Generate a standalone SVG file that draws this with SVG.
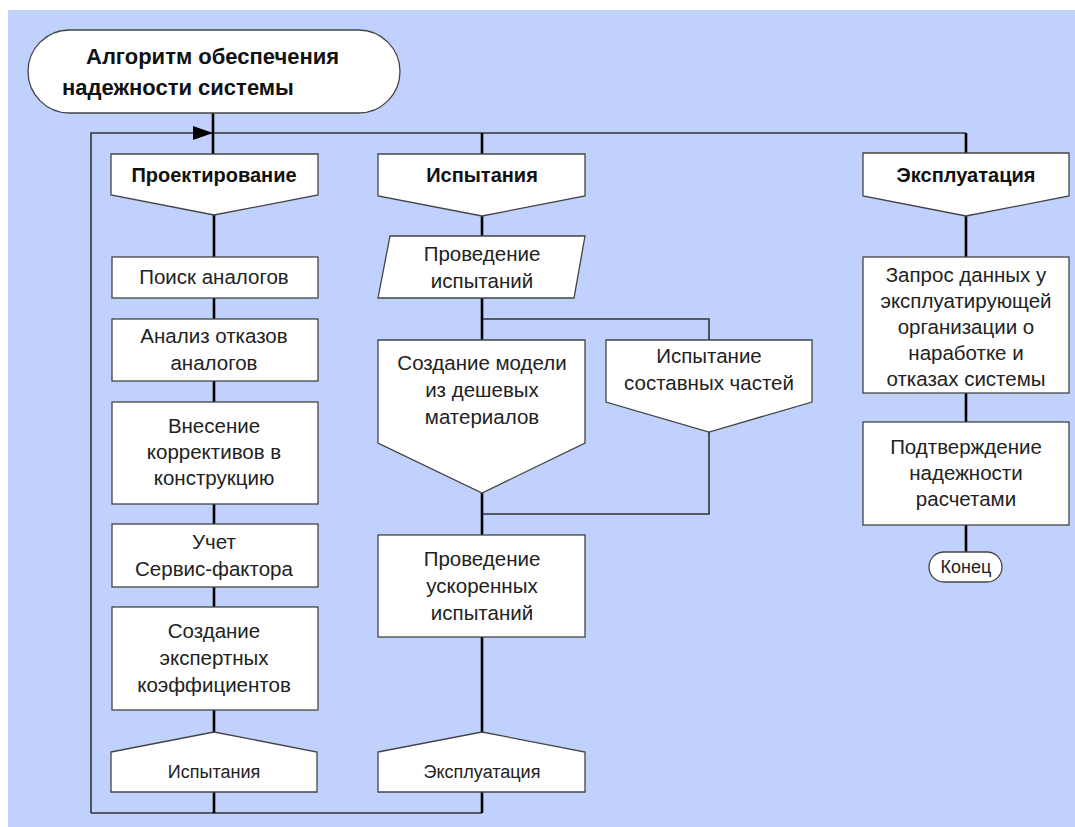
<svg xmlns="http://www.w3.org/2000/svg" width="1075" height="827" viewBox="0 0 1075 827">
<defs>
<style>
.bg{fill:#c0d1fd}
.box{fill:#fff;stroke:#444;stroke-width:1.3}
.t{font-family:"Liberation Sans",Arial,sans-serif;font-size:20.5px;fill:#222;text-anchor:middle}
.h{font-family:"Liberation Sans",Arial,sans-serif;font-size:20px;font-weight:bold;fill:#111;text-anchor:middle}
.ti{font-family:"Liberation Sans",Arial,sans-serif;font-size:22px;font-weight:bold;fill:#111}
.s{font-family:"Liberation Sans",Arial,sans-serif;font-size:18px;fill:#222;text-anchor:middle}
.v{stroke:#000;stroke-width:2.6;fill:none}
.w{stroke:#333;stroke-width:1.6;fill:none}
</style>
<marker id="arr" markerWidth="20" markerHeight="14" refX="20" refY="7" orient="auto" markerUnits="userSpaceOnUse">
<path d="M0,0 L20,7 L0,14 Z" fill="#000"/>
</marker>
</defs>
<rect class="bg" x="8" y="10" width="1067" height="817"/>

<g id="connectors">
<path class="w" d="M91,813 L91,133 L213,133" marker-end="url(#arr)"/>
<path class="w" d="M213,133 L966,133"/>
<path class="w" d="M91,813 L482,813"/>
<path class="w" d="M482,319 L709,319 L709,340"/>
<path class="w" d="M709,432 L709,514 L482,514"/>
<path class="v" d="M213,113 L213,154"/>
<path class="v" d="M214,215 L214,257 M214,298 L214,319 M214,381 L214,402 M214,504 L214,524 M214,587 L214,607 M214,710 L214,732 M214,792 L214,813"/>
<path class="v" d="M482,133 L482,154 M482,216 L482,236 M482,298 L482,340 M482,493 L482,535 M482,637 L482,732 M482,792 L482,813"/>
<path class="v" d="M966,133 L966,153 M966,216 L966,257 M966,393 L966,422 M966,525 L966,552"/>
</g>

<g id="title">
<rect class="box" x="28" y="30" width="372" height="83" rx="41.5" ry="41.5"/>
<text class="ti" x="86" y="64">Алгоритм обеспечения</text>
<text class="ti" x="62" y="95">надежности системы</text>
</g>

<g id="h-design">
<path class="box" d="M111,154 L318,154 L318,195 L214,215 L111,195 Z"/>
<text class="h" x="214" y="182">Проектирование</text>
</g>
<g id="n-search">
<rect class="box" x="112" y="257" width="206" height="41"/>
<text class="t" x="214" y="284">Поиск аналогов</text>
</g>
<g id="n-analysis">
<rect class="box" x="112" y="319" width="206" height="62"/>
<text class="t" x="214" y="343">Анализ отказов</text>
<text class="t" x="214" y="370">аналогов</text>
</g>
<g id="n-correct">
<rect class="box" x="112" y="402" width="206" height="102"/>
<text class="t" x="214" y="433">Внесение</text>
<text class="t" x="214" y="459">коррективов в</text>
<text class="t" x="214" y="485">конструкцию</text>
</g>
<g id="n-service">
<rect class="box" x="112" y="524" width="206" height="63"/>
<text class="t" x="214" y="549">Учет</text>
<text class="t" x="214" y="576">Сервис-фактора</text>
</g>
<g id="n-expert">
<rect class="box" x="112" y="607" width="206" height="103"/>
<text class="t" x="214" y="638">Создание</text>
<text class="t" x="214" y="665">экспертных</text>
<text class="t" x="214" y="692">коэффициентов</text>
</g>
<g id="o-test">
<path class="box" d="M111,752 L214,732 L317,752 L317,792 L111,792 Z"/>
<text class="s" x="214" y="778">Испытания</text>
</g>

<g id="h-test">
<path class="box" d="M378,154 L585,154 L585,196 L482,216 L378,196 Z"/>
<text class="h" x="482" y="182">Испытания</text>
</g>
<g id="n-conduct">
<path class="box" d="M390,236 L585,236 L574,298 L378,298 Z"/>
<text class="t" x="482" y="261">Проведение</text>
<text class="t" x="482" y="288">испытаний</text>
</g>
<g id="n-model">
<path class="box" d="M378,340 L585,340 L585,443 L482,493 L378,443 Z"/>
<text class="t" x="482" y="370">Создание модели</text>
<text class="t" x="482" y="397">из дешевых</text>
<text class="t" x="482" y="424">материалов</text>
</g>
<g id="n-parts">
<path class="box" d="M606,340 L812,340 L812,402 L709,432 L606,402 Z"/>
<text class="t" x="709" y="363">Испытание</text>
<text class="t" x="709" y="390">составных частей</text>
</g>
<g id="n-accel">
<rect class="box" x="378" y="535" width="207" height="102"/>
<text class="t" x="482" y="566">Проведение</text>
<text class="t" x="482" y="593">ускоренных</text>
<text class="t" x="482" y="620">испытаний</text>
</g>
<g id="o-exploit">
<path class="box" d="M378,752 L482,732 L585,752 L585,792 L378,792 Z"/>
<text class="s" x="482" y="778">Эксплуатация</text>
</g>

<g id="h-exploit">
<path class="box" d="M863,153 L1069,153 L1069,196 L966,216 L863,196 Z"/>
<text class="h" x="966" y="182">Эксплуатация</text>
</g>
<g id="n-request">
<rect class="box" x="863" y="257" width="206" height="136"/>
<text class="t" x="966" y="282">Запрос данных у</text>
<text class="t" x="966" y="308">эксплуатирующей</text>
<text class="t" x="966" y="334">организации о</text>
<text class="t" x="966" y="360">наработке и</text>
<text class="t" x="966" y="386">отказах системы</text>
</g>
<g id="n-confirm">
<rect class="box" x="863" y="422" width="206" height="103"/>
<text class="t" x="966" y="454">Подтверждение</text>
<text class="t" x="966" y="480">надежности</text>
<text class="t" x="966" y="506">расчетами</text>
</g>
<g id="end">
<rect class="box" x="929" y="552" width="73" height="30" rx="15" ry="15"/>
<text class="s" x="966" y="573">Конец</text>
</g>
</svg>
